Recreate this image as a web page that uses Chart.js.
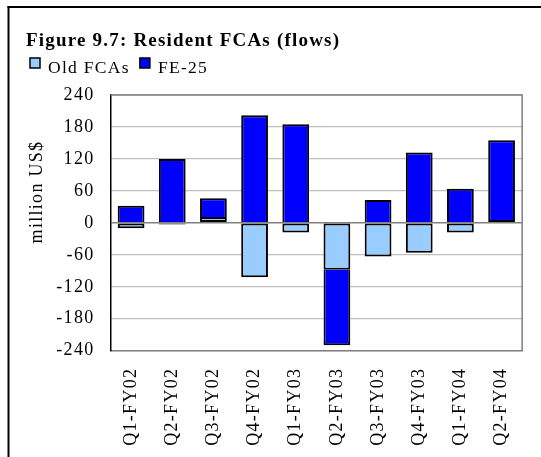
<!DOCTYPE html>
<html>
<head>
<meta charset="utf-8">
<script src="https://cdn.jsdelivr.net/npm/chart.js@4"></script>
<style>
  html, body { margin: 0; padding: 0; background: #ffffff; }
  #wrap { width: 541px; height: 457px; position: relative; }
</style>
</head>
<body>
<div id="wrap"><canvas id="c" width="541" height="457"></canvas></div>
<script>
const chartTitle = 'Figure 9.7: Resident FCAs (flows)';
const yAxisTitle = 'million US$';
const categories = ['Q1-FY02', 'Q2-FY02', 'Q3-FY02', 'Q4-FY02', 'Q1-FY03', 'Q2-FY03', 'Q3-FY03', 'Q4-FY03', 'Q1-FY04', 'Q2-FY04'];
const seriesNames = ['Old FCAs', 'FE-25'];
const oldFCAs = [-10, -3, 11, -102, -18, -88, -63, -56, -18, 0];
const fe25 = [32, 120, 35, 202, 185, -142, 43, 132, 64, 155];
const yMin = -240;
const yMax = 240;
const yStep = 60;

const FONT = "'Liberation Serif', 'Times New Roman', serif";
const SPACING = '1.3px';

const decor = {
  id: 'decor',
  beforeUpdate(chart) { chart.ctx.letterSpacing = SPACING; },
  beforeDraw(chart) { chart.ctx.letterSpacing = SPACING; },
  afterDraw(chart) {
    const ctx = chart.ctx;
    const ca = chart.chartArea;
    ctx.save();
    // plot frame top & right (gray)
    ctx.strokeStyle = '#808080';
    ctx.lineWidth = 1.5;
    ctx.beginPath();
    ctx.moveTo(ca.left, ca.top);
    ctx.lineTo(ca.right, ca.top);
    ctx.lineTo(ca.right, ca.bottom);
    ctx.stroke();
    // outer frame (left & top edges visible)
    ctx.fillStyle = '#000000';
    ctx.fillRect(7.5, 6, 2, 460);
    ctx.fillRect(7.5, 6, 540, 2);
    // title
    ctx.letterSpacing = '1.2px';
    ctx.font = "bold 19px " + FONT;
    ctx.textAlign = 'left';
    ctx.textBaseline = 'alphabetic';
    ctx.fillText(chartTitle, 26, 45.5);
    // legend
    ctx.letterSpacing = SPACING;
    ctx.font = "17.5px " + FONT;
    let x = 30;
    chart.data.datasets.forEach(ds => {
      ctx.fillStyle = ds.backgroundColor;
      ctx.fillRect(x, 58, 10, 10);
      ctx.strokeStyle = '#000000';
      ctx.lineWidth = 1.5;
      ctx.strokeRect(x, 58, 10, 10);
      ctx.fillStyle = '#000000';
      ctx.fillText(ds.label, x + 18, 73);
      x += 18 + ctx.measureText(ds.label).width + 10;
    });
    // y axis title
    ctx.font = "18px " + FONT;
    ctx.translate(37, 192);
    ctx.rotate(-Math.PI / 2);
    ctx.textAlign = 'center';
    ctx.textBaseline = 'middle';
    ctx.fillText(yAxisTitle, 0, 0);
    ctx.restore();
  }
};

Chart.defaults.font.family = FONT;
Chart.defaults.font.size = 18;
Chart.defaults.color = '#000000';

new Chart(document.getElementById('c'), {
  type: 'bar',
  data: {
    labels: categories,
    datasets: [
      { label: seriesNames[0], data: oldFCAs, backgroundColor: '#99CCFF', borderColor: '#000000', borderWidth: 2, borderSkipped: false, stack: 's' },
      { label: seriesNames[1], data: fe25, backgroundColor: '#0000FF', borderColor: '#000000', borderWidth: 2,
        borderSkipped: c => (oldFCAs[c.dataIndex] !== 0 ? 'start' : false), stack: 's' }
    ]
  },
  options: {
    responsive: false,
    animation: false,
    devicePixelRatio: 1,
    layout: { padding: { left: 0, top: 95, right: 16.5, bottom: 0 } },
    plugins: { legend: { display: false }, title: { display: false }, tooltip: { enabled: false } },
    datasets: { bar: { barPercentage: 0.65, categoryPercentage: 1 } },
    scales: {
      x: {
        stacked: true,
        grid: { display: false, drawTicks: false },
        border: { display: true, color: '#808080', width: 1.5 },
        ticks: { minRotation: 90, maxRotation: 90, padding: 17, autoSkip: false, font: { size: 18 } },
        afterFit(s) { s.height = 106.3; }
      },
      y: {
        stacked: true,
        min: yMin, max: yMax,
        grid: {
          drawTicks: false,
          color: c => (c.tick && c.tick.value === 0) ? '#808080' : '#c0c0c0',
          lineWidth: c => (c.tick && c.tick.value === 0) ? 1.5 : 1.2
        },
        border: { display: true, color: '#000000', width: 1.5 },
        ticks: { stepSize: yStep, padding: 16, font: { size: 18 } },
        afterFit(s) { s.width = 110.5; }
      }
    }
  },
  plugins: [decor]
});
</script>
</body>
</html>
